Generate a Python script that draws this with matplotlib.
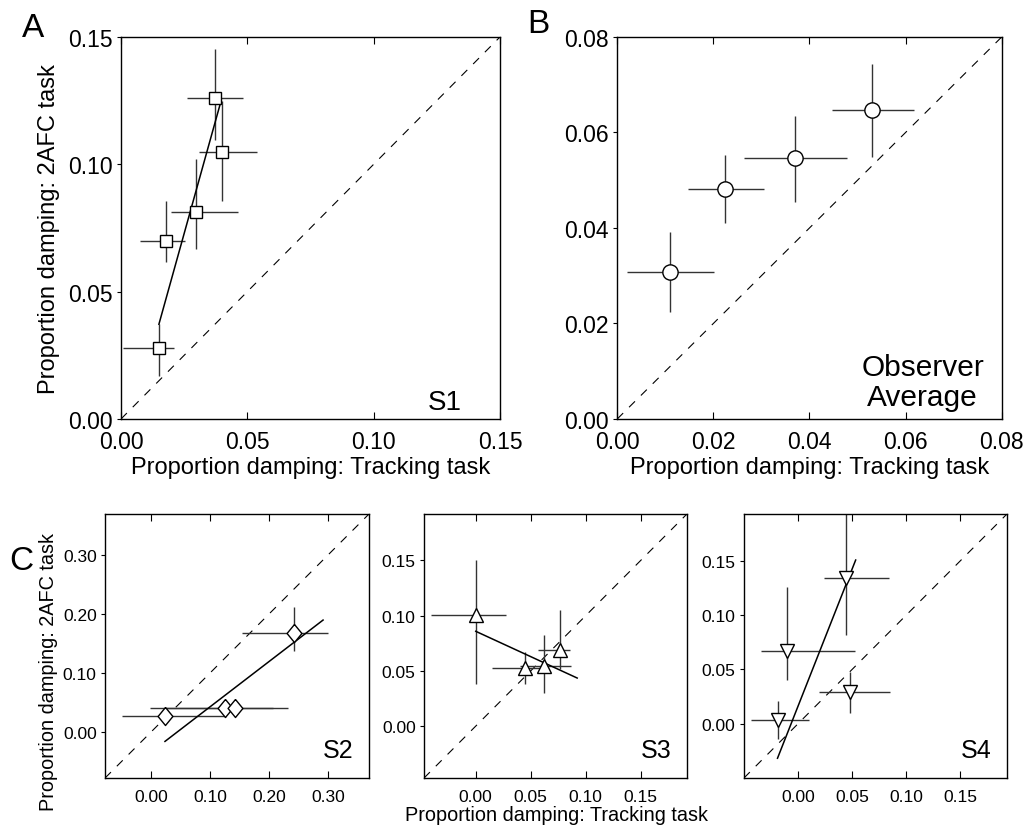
#!/usr/bin/env python3
"""
Proportion damping: 2AFC task vs tracking task, observer S1, average, S2-S4
"""
import numpy as np
import matplotlib
matplotlib.use('Agg')
import matplotlib.pyplot as plt

plt.rcParams['font.family'] = ['Liberation Sans', 'DejaVu Sans']

# panel A, observer S1
a_x = [0.0372, 0.0400, 0.0295, 0.0178, 0.0150]
a_y = [0.1260, 0.1048, 0.0812, 0.0700, 0.0277]
a_xlo = [0.0260, 0.0309, 0.0198, 0.0077, 0.0009]
a_xhi = [0.0481, 0.0537, 0.0463, 0.0253, 0.0208]
a_ylo = [0.1097, 0.0855, 0.0666, 0.0618, 0.0167]
a_yhi = [0.1453, 0.1247, 0.1021, 0.0854, 0.0372]
a_fit_x = [0.0150, 0.0393]
a_fit_y = [0.0372, 0.1238]

# panel B, observer average
b_x = [0.0109, 0.0225, 0.0370, 0.0531]
b_y = [0.0308, 0.0482, 0.0546, 0.0647]
b_xlo = [0.0020, 0.0147, 0.0264, 0.0446]
b_xhi = [0.0201, 0.0305, 0.0478, 0.0617]
b_ylo = [0.0223, 0.0411, 0.0454, 0.0548]
b_yhi = [0.0392, 0.0552, 0.0635, 0.0744]

# panel C, S2
s2_x = [0.0232, 0.1249, 0.1418, 0.2435]
s2_y = [0.027, 0.041, 0.041, 0.168]
s2_xlo = [-0.0497, 0.024, -0.0017, 0.155]
s2_xhi = [0.128, 0.207, 0.2317, 0.301]
s2_ylo = [0.020, 0.034, 0.034, 0.137]
s2_yhi = [0.034, 0.048, 0.048, 0.212]
s2_fit_x = [0.0237, 0.292]
s2_fit_y = [-0.0159, 0.190]

# panel C, S3
s3_x = [0.0, 0.0446, 0.0620, 0.0765]
s3_y = [0.1009, 0.0530, 0.0543, 0.0692]
s3_xlo = [-0.0404, 0.0145, 0.040, 0.0563]
s3_xhi = [0.0271, 0.062, 0.087, 0.0859]
s3_ylo = [0.0378, 0.0378, 0.0296, 0.0513]
s3_yhi = [0.150, 0.0670, 0.082, 0.1048]
s3_fit_x = [0.0, 0.0922]
s3_fit_y = [0.0858, 0.0435]

# panel C, S4
s4_x = [-0.019, -0.0099, 0.044, 0.0476]
s4_y = [0.0033, 0.0672, 0.1345, 0.0296]
s4_xlo = [-0.0436, -0.0344, 0.024, 0.0194]
s4_xhi = [0.0101, 0.0525, 0.0839, 0.085]
s4_ylo = [-0.0145, 0.0404, 0.0817, 0.0102]
s4_yhi = [0.021, 0.126, 0.22, 0.048]
s4_fit_x = [-0.019, 0.0532]
s4_fit_y = [-0.0318, 0.1506]

xlab = 'Proportion damping: Tracking task'
ylab = 'Proportion damping: 2AFC task'

# slightly narrow diamond
diamond = [(0, 1), (0.82, 0), (0, -1), (-0.82, 0), (0, 1)]


def panel(ax, x, y, xlo, xhi, ylo, yhi, lim, ticks, marker, ms, fs,
          fit=None, label=None, lfs=18, lpos=(0.94, 0.06)):
    x, y = np.array(x), np.array(y)
    xerr = [x - np.array(xlo), np.array(xhi) - x]
    yerr = [y - np.array(ylo), np.array(yhi) - y]
    ax.plot(lim, lim, color='k', lw=0.8, ls=(0, (7.5, 7.5)), zorder=1)
    ax.errorbar(x, y, xerr=xerr, yerr=yerr, fmt='none', ecolor='0.2',
                elinewidth=1.0, capsize=0, zorder=2)
    if fit is not None:
        ax.plot(fit[0], fit[1], color='k', lw=1.1, zorder=3)
    ax.plot(x, y, ls='none', marker=marker, ms=ms, mfc='white', mec='k',
            mew=1.0, zorder=4)
    ax.set_xlim(lim)
    ax.set_ylim(lim)
    ax.set_xticks(ticks)
    ax.set_yticks(ticks)
    ax.set_xticklabels(['%.2f' % t for t in ticks])
    ax.set_yticklabels(['%.2f' % t for t in ticks])
    ax.tick_params(axis='x', direction='in', top=True, length=5,
                   labelsize=fs, pad=8)
    ax.tick_params(axis='y', direction='out', length=3, labelsize=fs, pad=3)
    for s in ax.spines.values():
        s.set_linewidth(1.0)
    if label is not None:
        ax.text(lpos[0], lpos[1], label, transform=ax.transAxes, ha='right',
                va='bottom', fontsize=lfs)


fig = plt.figure(figsize=(10.36, 8.29), dpi=100)

axa = fig.add_axes([0.1168, 0.4934, 0.3658, 0.4608])
panel(axa, a_x, a_y, a_xlo, a_xhi, a_ylo, a_yhi, [0, 0.15],
      [0, 0.05, 0.10, 0.15], 's', 9, 16.5, fit=(a_fit_x, a_fit_y),
      label='S1', lfs=20, lpos=(0.90, 0.01))
axa.set_xlabel(xlab, fontsize=17, labelpad=2)
axa.set_ylabel(ylab, fontsize=17, labelpad=6)

axb = fig.add_axes([0.5958, 0.4934, 0.3711, 0.4608])
panel(axb, b_x, b_y, b_xlo, b_xhi, b_ylo, b_yhi, [0, 0.08],
      [0, 0.02, 0.04, 0.06, 0.08], 'o', 11, 16.5)
axb.set_xlabel(xlab, fontsize=17, labelpad=2)
axb.text(0.794, 0.02, 'Observer\nAverage', transform=axb.transAxes,
         ha='center', va='bottom', fontsize=21.5, multialignment='center',
         linespacing=1.1)

ax2 = fig.add_axes([0.1014, 0.0603, 0.2548, 0.3185])
panel(ax2, s2_x, s2_y, s2_xlo, s2_xhi, s2_ylo, s2_yhi, [-0.078, 0.37],
      [0, 0.10, 0.20, 0.30], diamond, 13, 12.5, fit=(s2_fit_x, s2_fit_y),
      label='S2')

ax3 = fig.add_axes([0.4093, 0.0603, 0.2538, 0.3185])
panel(ax3, s3_x, s3_y, s3_xlo, s3_xhi, s3_ylo, s3_yhi, [-0.047, 0.192],
      [0, 0.05, 0.10, 0.15], '^', 10, 12.5, fit=(s3_fit_x, s3_fit_y),
      label='S3')

ax4 = fig.add_axes([0.7181, 0.0603, 0.2539, 0.3185])
panel(ax4, s4_x, s4_y, s4_xlo, s4_xhi, s4_ylo, s4_yhi, [-0.05, 0.193],
      [0, 0.05, 0.10, 0.15], 'v', 10, 12.5, fit=(s4_fit_x, s4_fit_y),
      label='S4')

fig.text(0.5367, 0.0157, xlab, ha='center', va='center', fontsize=14.3)
fig.text(0.047, 0.189, ylab, ha='center', va='center', fontsize=14.3,
         rotation=90)

# panel letters
fig.text(0.021, 0.955, 'A', fontsize=24, ha='left', va='baseline')
fig.text(0.509, 0.960, 'B', fontsize=24, ha='left', va='baseline')
fig.text(0.009, 0.312, 'C', fontsize=24, ha='left', va='baseline')

fig.savefig('out.png', dpi=100)
